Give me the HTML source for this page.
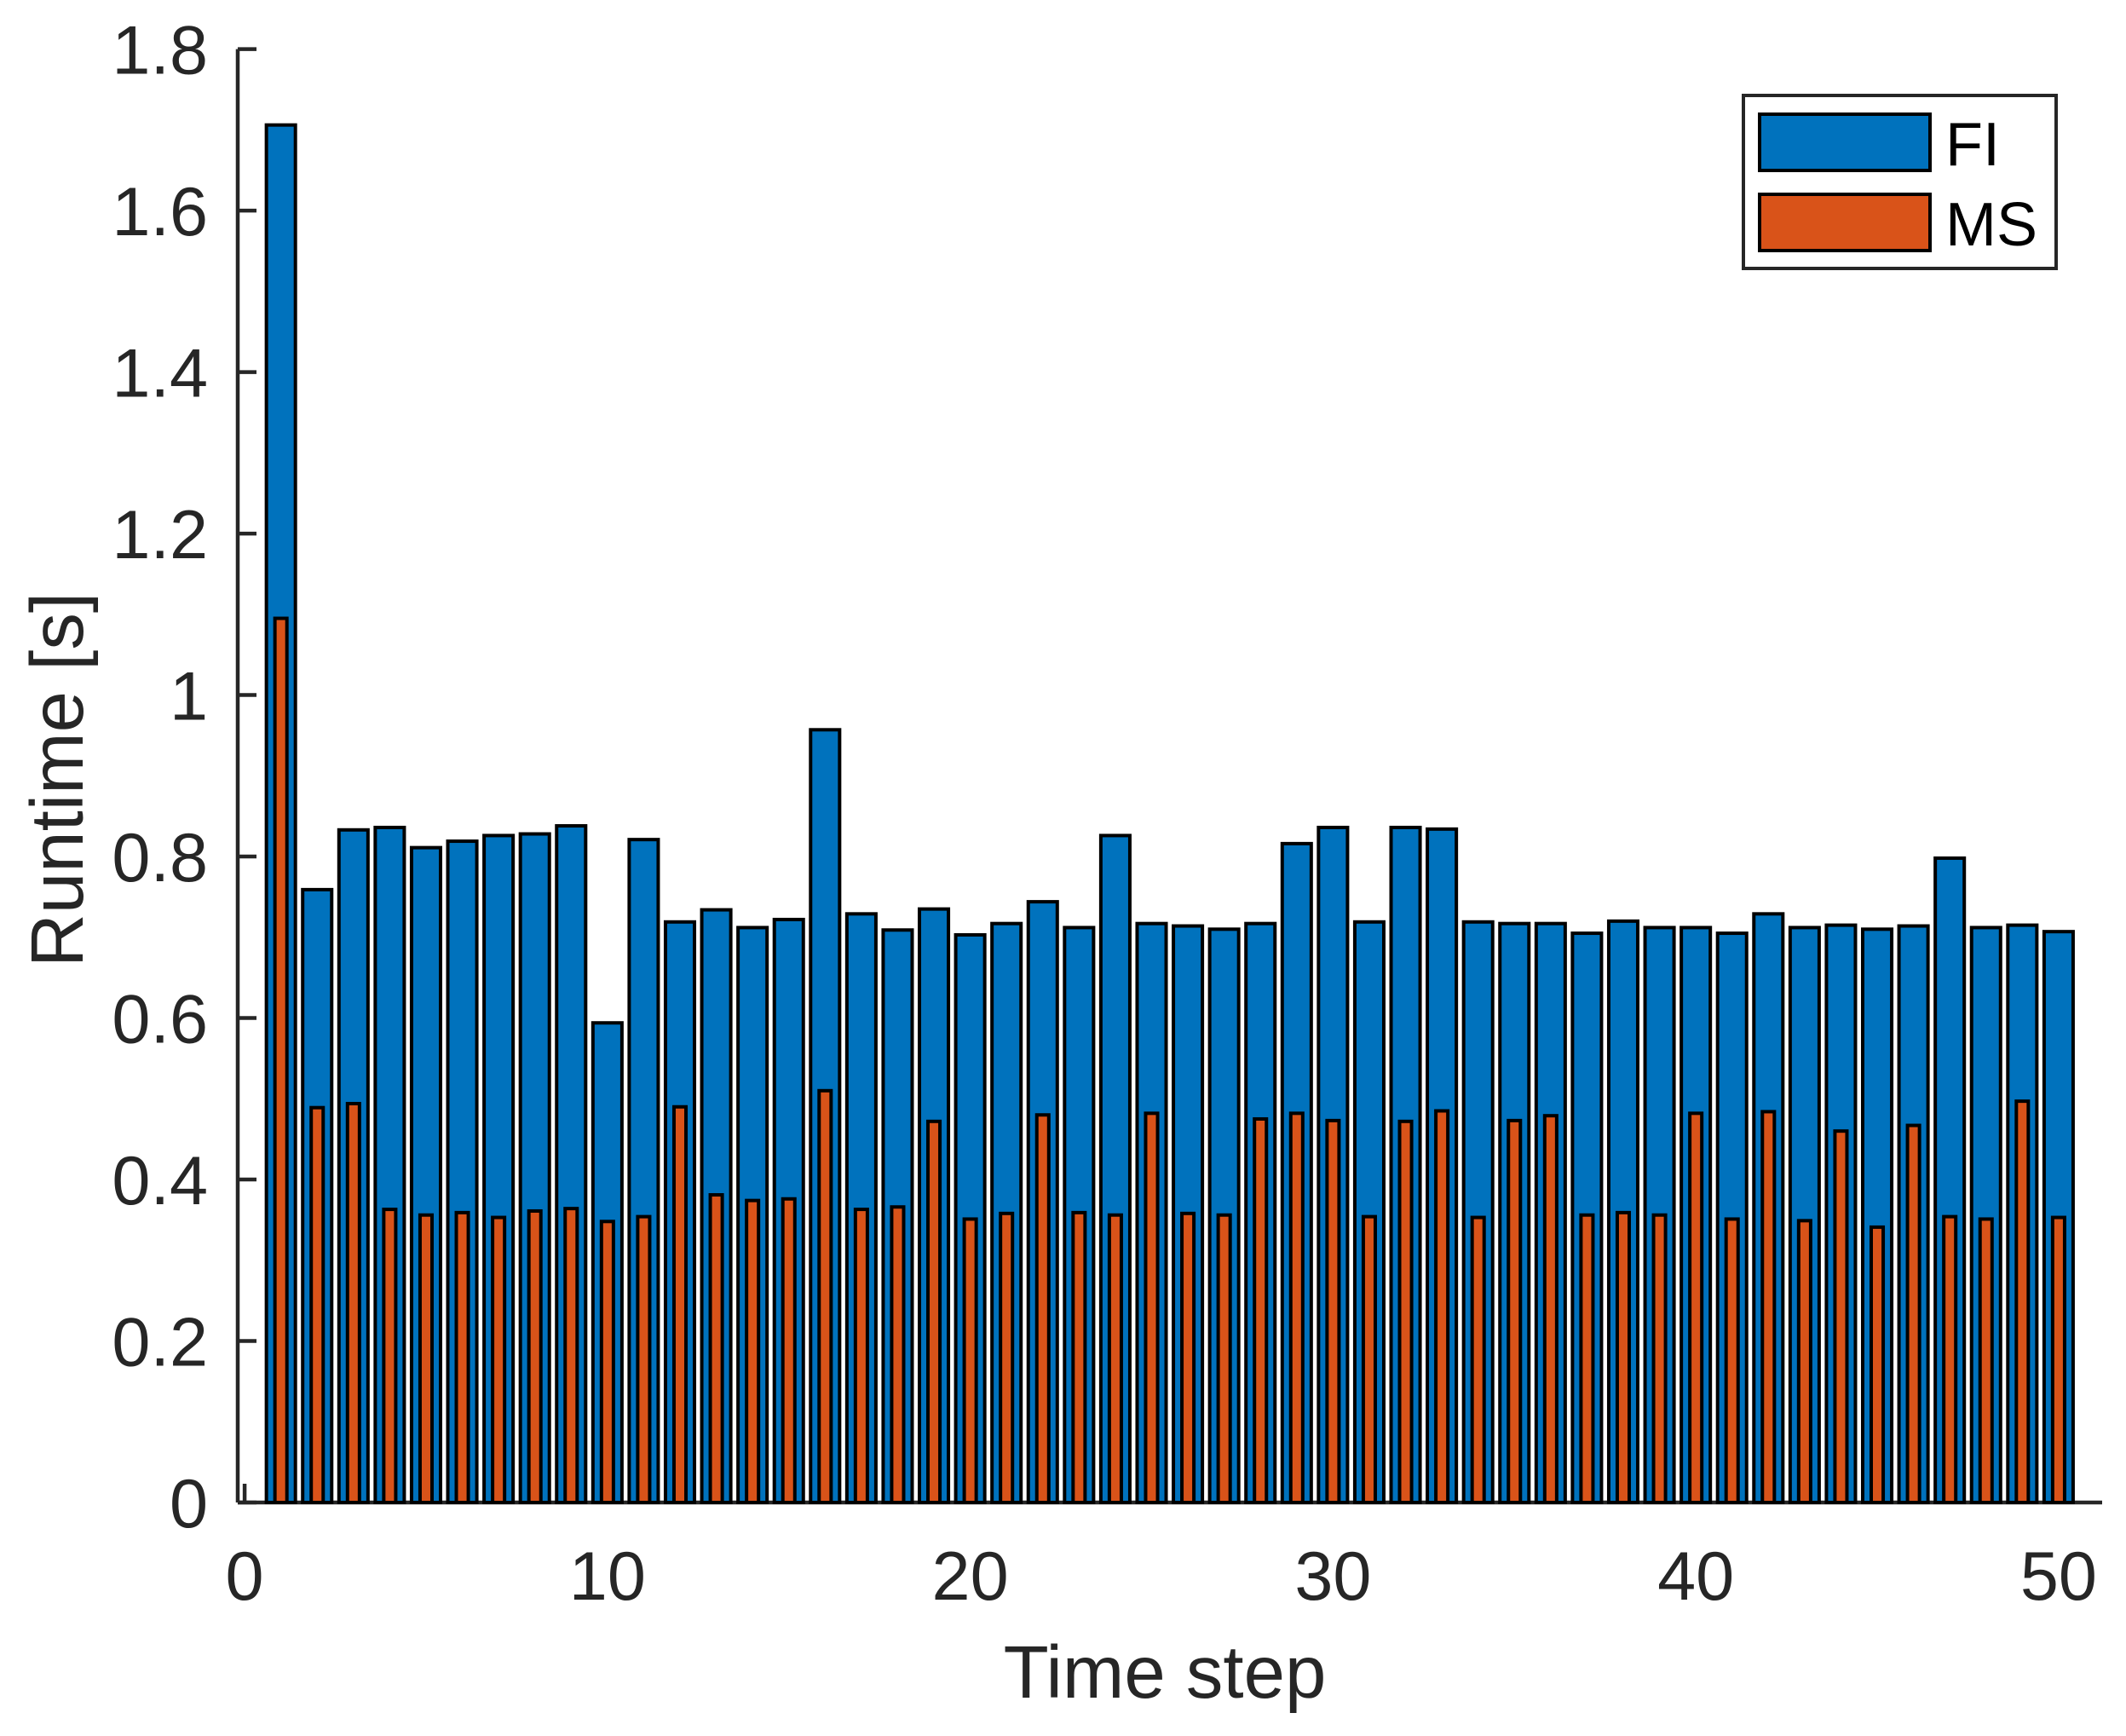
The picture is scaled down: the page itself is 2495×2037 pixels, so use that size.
<!DOCTYPE html>
<html><head><meta charset="utf-8"><style>
html,body{margin:0;padding:0;background:#fff;}
svg{display:block;font-family:"Liberation Sans",Arial,sans-serif;}
</style></head><body>
<svg id="chart" width="2495" height="2037" viewBox="0 0 2495 2037" xmlns="http://www.w3.org/2000/svg">
<rect width="2495" height="2037" fill="#fff"/>
<g id="axes"></g>
<g id="bars"></g>
<text x="1367" y="1992" font-size="87" fill="#262626" text-anchor="middle">Time step</text>
<text transform="translate(97,915) rotate(-90)" font-size="87" fill="#262626" text-anchor="middle">Runtime [s]</text>
<g>
<rect x="2046" y="112" width="367" height="203" fill="#fff" stroke="#262626" stroke-width="4"/>
<rect x="2065" y="134" width="200" height="66" fill="#0072BD" stroke="#000" stroke-width="4"/>
<text x="2283" y="194" font-size="72" fill="#000">FI</text>
<rect x="2065" y="228" width="200" height="66" fill="#D95319" stroke="#000" stroke-width="4"/>
<text x="2283" y="288" font-size="72" fill="#000">MS</text>
</g>
</svg>
<script>
const steps = Array.from({length:50},(_,i)=>i+1);
const fiValues = [1.706,0.759,0.833,0.836,0.811,0.819,0.826,0.828,0.838,0.594,0.821,0.719,0.734,0.712,0.722,0.957,0.729,0.709,0.735,0.703,0.717,0.744,0.712,0.826,0.717,0.714,0.710,0.717,0.816,0.836,0.719,0.836,0.834,0.719,0.717,0.717,0.705,0.720,0.712,0.712,0.705,0.729,0.712,0.715,0.710,0.714,0.798,0.712,0.715,0.707];
const msValues = [1.095,0.489,0.494,0.363,0.356,0.359,0.353,0.361,0.364,0.348,0.354,0.490,0.381,0.374,0.376,0.510,0.363,0.366,0.472,0.351,0.358,0.480,0.359,0.356,0.482,0.358,0.356,0.475,0.482,0.473,0.354,0.472,0.485,0.353,0.473,0.479,0.356,0.359,0.356,0.482,0.351,0.484,0.349,0.460,0.341,0.467,0.354,0.351,0.497,0.353];
const yTicks = [0,0.2,0.4,0.6,0.8,1,1.2,1.4,1.6,1.8];
const yTickLabels = ["0","0.2","0.4","0.6","0.8","1","1.2","1.4","1.6","1.8"];
const xTicks = [0,10,20,30,40,50];

const NS="http://www.w3.org/2000/svg";
const xMin=-0.19, xMax=51.2, axL=279, axR=2467, axT=57.6, axB=1763;
const yMaxV=1.8;
function xs(v){return axL+(v-xMin)/(xMax-xMin)*(axR-axL);}
function ys(v){return axB-(v/yMaxV)*(axB-axT);}
function mk(tag,attrs,parent){const e=document.createElementNS(NS,tag);for(const k in attrs)e.setAttribute(k,attrs[k]);parent.appendChild(e);return e;}
const bars=document.getElementById('bars'), axes=document.getElementById('axes');
const unit=xs(1)-xs(0);
steps.forEach((s,i)=>{
  const w=0.8*unit, cx=xs(s);
  const r=mk('rect',{x:cx-w/2,y:ys(fiValues[i]),width:w,height:ys(0)-ys(fiValues[i]),fill:'#0072BD',stroke:'#000','stroke-width':4},bars);
  
  
});
steps.forEach((s,i)=>{
  const w=0.33*unit, cx=xs(s);
  const r=mk('rect',{x:cx-w/2,y:ys(msValues[i]),width:w,height:ys(0)-ys(msValues[i]),fill:'#D95319',stroke:'#000','stroke-width':4},bars);
  
  
});
const yl=mk('line',{x1:axL,y1:axT,x2:axL,y2:axB,stroke:'#262626','stroke-width':4.5},axes);


const xl=mk('line',{x1:axL,y1:axB,x2:axR,y2:axB,stroke:'#262626','stroke-width':4.5},axes);


yTicks.forEach((v,i)=>{
  const y=ys(v);
  const t=mk('line',{x1:axL,y1:y,x2:axL+22,y2:y,stroke:'#262626','stroke-width':4.5},axes);
  
  
  const tx=mk('text',{x:244,y:y+29,'font-size':81,fill:'#262626','text-anchor':'end'},axes);
  tx.textContent=yTickLabels[i];
  
  
});
xTicks.forEach(v=>{
  const x=xs(v);
  const t=mk('line',{x1:x,y1:axB,x2:x,y2:axB-22,stroke:'#262626','stroke-width':4.5},axes);
  
  
  const tx=mk('text',{x:x,y:1877,'font-size':81,fill:'#262626','text-anchor':'middle'},axes);
  tx.textContent=String(v);
  
  
});
</script>
</body></html>
